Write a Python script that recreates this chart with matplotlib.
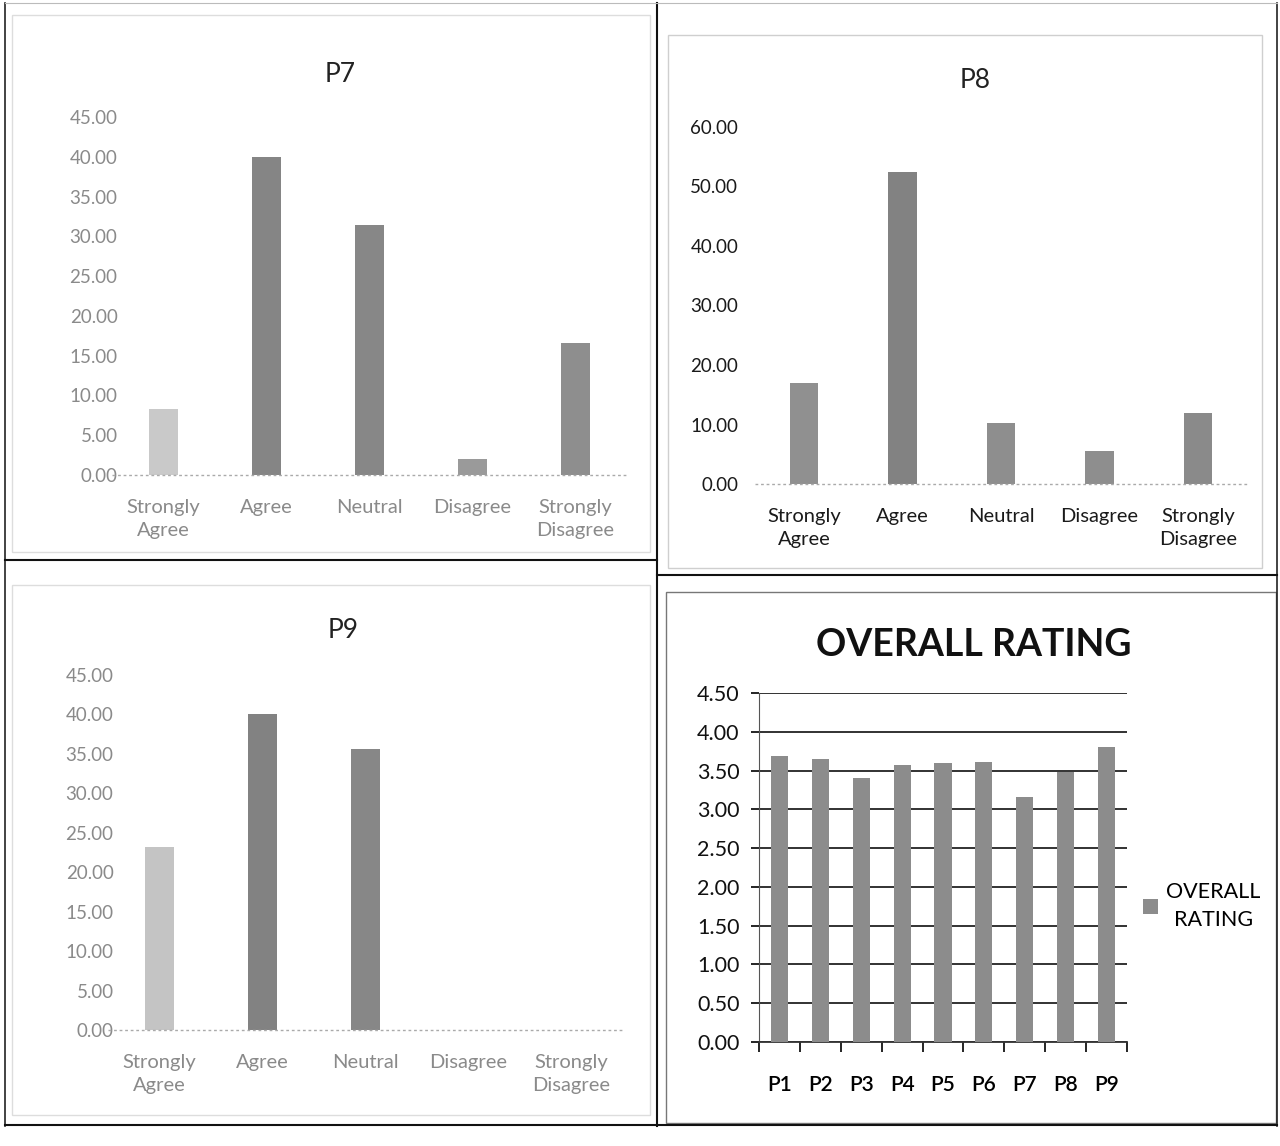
import matplotlib.pyplot as plt
import matplotlib.lines as mlines
import matplotlib.patches as mpatches
import numpy as np

plt.rcParams['font.family'] = ['Lato', 'DejaVu Sans']

W, H = 1280, 1146

likert = ['Strongly\nAgree', 'Agree', 'Neutral', 'Disagree', 'Strongly\nDisagree']
p7_values = [8.3, 40.0, 31.4, 2.0, 16.6]
p8_values = [16.9, 52.5, 10.2, 5.6, 12.0]
p9_values = [23.2, 40.1, 35.6, 0.0, 0.0]

overall_labels = ['P1', 'P2', 'P3', 'P4', 'P5', 'P6', 'P7', 'P8', 'P9']
overall_values = [3.69, 3.65, 3.40, 3.57, 3.60, 3.61, 3.16, 3.48, 3.80]


def rect(x0, y0, x1, y1):
    return [x0 / W, 1 - y1 / H, (x1 - x0) / W, (y1 - y0) / H]


def fig_line(fig, x0, y0, x1, y1, **kw):
    fig.add_artist(mlines.Line2D([x0 / W, x1 / W], [1 - y0 / H, 1 - y1 / H],
                                 transform=fig.transFigure, **kw))


def likert_panel(fig, box, values, ymax, step, title, title_xy, colors, label_color, ypad):
    ax = fig.add_axes(rect(*box))
    x = np.arange(len(values))
    ax.bar(x, values, width=0.29, color=colors, edgecolor='none')
    ax.set_xlim(-0.5, len(values) - 0.5)
    ax.set_ylim(0, ymax)
    ticks = np.arange(0, ymax + 0.01, step)
    ax.set_yticks(ticks)
    ax.set_yticklabels([f'{v:.2f}' for v in ticks])
    ax.set_xticks(x)
    ax.set_xticklabels(likert, linespacing=1.45)
    ax.tick_params(axis='y', length=0, pad=ypad, labelsize=13.5, labelcolor=label_color)
    ax.tick_params(axis='x', length=0, pad=17, labelsize=14.5, labelcolor=label_color)
    for s in ax.spines.values():
        s.set_visible(False)
    ax.axhline(0, color='#aaaaaa', lw=1, ls=(0, (2, 2)), clip_on=False)
    ax.patch.set_alpha(0)
    fig.text(title_xy[0] / W, 1 - title_xy[1] / H, title, ha='center', va='center',
             fontsize=19, color='#222222')
    return ax


fig = plt.figure(figsize=(W / 100, H / 100), dpi=100)

likert_panel(fig, (112, 117, 627, 475), p7_values, 45, 5, 'P7', (340, 75),
             ['#c9c9c9', '#858585', '#878787', '#9a9a9a', '#8e8e8e'], '#8a8a8a', -4)
likert_panel(fig, (755, 127, 1247, 484), p8_values, 60, 10, 'P8', (975, 80),
             ['#909090', '#828282', '#8e8e8e', '#8e8e8e', '#8a8a8a'], '#1a1a1a', 12)
likert_panel(fig, (108, 675, 623, 1030), p9_values, 45, 5, 'P9', (343, 630),
             ['#c4c4c4', '#828282', '#878787', '#888888', '#888888'], '#8a8a8a', -4)

# overall rating panel
ax = fig.add_axes(rect(759, 693, 1127, 1042))
x = np.arange(len(overall_values))
ax.bar(x, overall_values, width=0.42, color='#8c8c8c', edgecolor='none',
       label='OVERALL\nRATING', zorder=3)
ax.set_xlim(-0.5, len(overall_values) - 0.5)
ax.set_ylim(0, 4.5)
yt = np.arange(0, 4.51, 0.5)
ax.set_yticks(yt)
ax.set_yticklabels([f'{v:.2f}' for v in yt])
ax.yaxis.grid(True, color='#222222', lw=1.3, zorder=0)
ax.set_xticks(x)
ax.set_xticklabels(overall_labels, fontweight='semibold')
ax.set_xticks(np.arange(-0.5, len(overall_values)), minor=True)
ax.tick_params(axis='x', which='major', length=0, pad=24, labelsize=15)
ax.tick_params(axis='x', which='minor', length=7, width=1.2, direction='out')
ax.tick_params(axis='y', length=6, width=1.2, pad=8, labelsize=15.5, labelcolor='#111111')
ax.spines['top'].set_visible(False)
ax.spines['right'].set_visible(False)
ax.spines['left'].set_color('#555555')
ax.spines['bottom'].set_color('#333333')
ax.spines['bottom'].set_linewidth(1.3)
leg = ax.legend(loc='center left', bbox_to_anchor=(0.99, 0.39), frameon=False,
                fontsize=15.5, handlelength=0.7, handleheight=0.7, handletextpad=0.4)
leg.get_texts()[0].set_multialignment('center')
leg.get_texts()[0].set_linespacing(1.5)
fig.text(974 / W, 1 - 645 / H, 'OVERALL RATING', ha='center', va='center',
         fontsize=27, fontweight='bold', color='#111111')

# scanned page frames
fig_line(fig, 5, 3, 5, 1126, color='#222222', lw=1.2)
fig_line(fig, 1277, 3, 1277, 1126, color='#222222', lw=1.2)
fig_line(fig, 657, 3, 657, 1126, color='#111111', lw=1.5)
fig_line(fig, 5, 1125, 1277, 1125, color='#111111', lw=1.5)
fig_line(fig, 5, 560, 657, 560, color='#111111', lw=1.5)
fig_line(fig, 657, 575, 1277, 575, color='#111111', lw=1.5)
fig_line(fig, 5, 3, 1277, 3, color='#bbbbbb', lw=0.8)

# faint inner chart borders
for x0, y0, x1, y1, c in [(12, 15, 650, 552, '#dddddd'),
                          (668, 35, 1262, 568, '#cfcfcf'),
                          (12, 585, 650, 1115, '#dddddd'),
                          (666, 592, 1276, 1123, '#777777')]:
    fig.add_artist(mpatches.Rectangle((x0 / W, 1 - y1 / H), (x1 - x0) / W, (y1 - y0) / H,
                                      transform=fig.transFigure, fill=False,
                                      edgecolor=c, lw=1))

fig.savefig('out.png', dpi=100)
